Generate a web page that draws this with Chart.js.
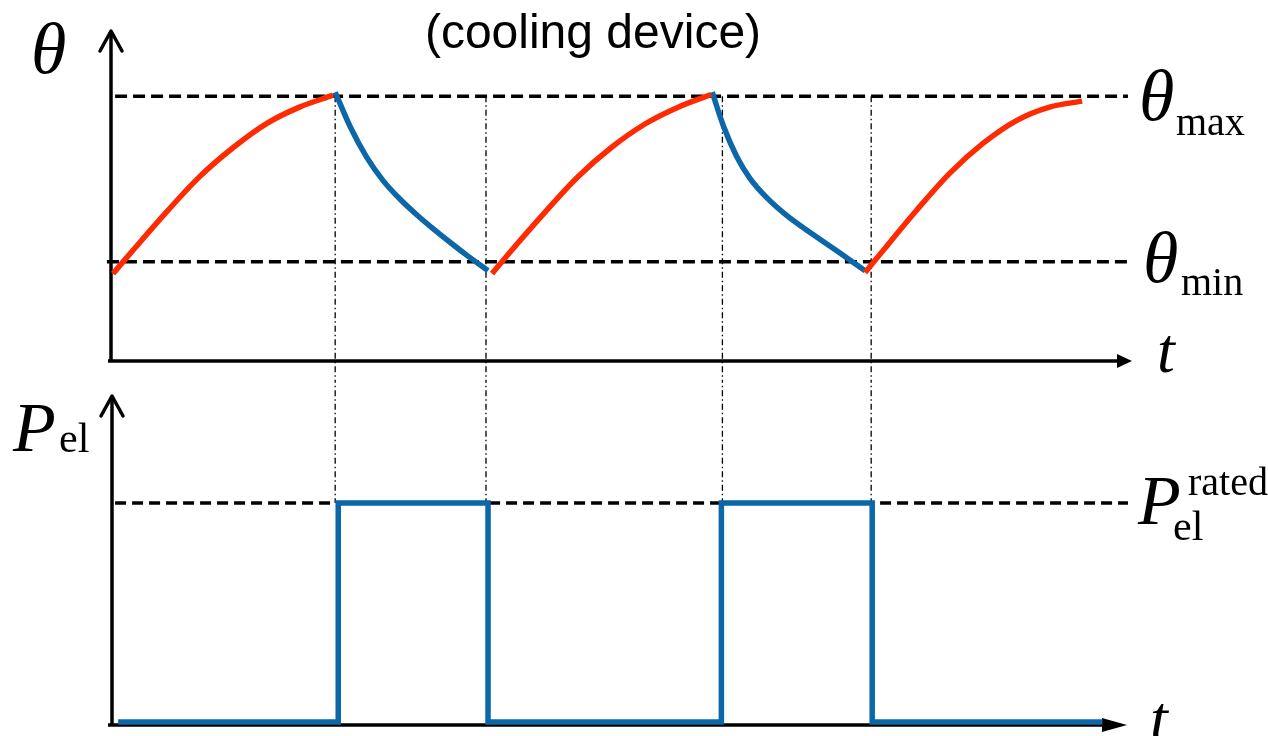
<!DOCTYPE html>
<html>
<head>
<meta charset="utf-8">
<title>cooling device</title>
<script src="https://cdn.jsdelivr.net/npm/chart.js@4.4.1/dist/chart.umd.min.js"></script>
<style>
  html, body { margin: 0; padding: 0; background: #fff; }
  #wrap { position: relative; width: 1268px; height: 736px; overflow: hidden; }
  canvas { position: absolute; left: 0; }
  #topChart { top: 0; }
  #bottomChart { top: 380px; }
  .lbl { position: absolute; white-space: nowrap; line-height: 1; color: #000; font-family: "Liberation Serif", "Times New Roman", serif; }
  .sans { font-family: "Liberation Sans", Arial, sans-serif; }
  .it { font-style: italic; }
</style>
</head>
<body>
<div id="wrap">
  <canvas id="topChart" width="1268" height="380"></canvas>
  <canvas id="bottomChart" width="1268" height="356"></canvas>
</div>
<script>
/* globals Chart:false */

// time axis (arbitrary units 0..100)
const T_MIN = 0;
const T_MAX = 100;

// temperature levels
const THETA_MIN = 3;
const THETA_MAX = 8;
const P_RATED = 1;

// heating phases (red)
const tHeat1 = [0.2, 2.2, 5.5, 8.7, 12.0, 15.3, 18.5, 21.8];
const thetaHeat1 = [2.64, 3.36, 4.52, 5.57, 6.45, 7.18, 7.67, 8.03];
const tHeat2 = [37.4, 39.3, 42.6, 45.8, 49.1, 52.4, 55.6, 58.9];
const thetaHeat2 = [2.64, 3.34, 4.50, 5.56, 6.45, 7.16, 7.66, 8.05];
const tHeat3 = [74.0, 75.8, 79.1, 82.3, 85.6, 88.9, 92.1, 95.3];
const thetaHeat3 = [2.67, 3.35, 4.57, 5.67, 6.58, 7.27, 7.67, 7.85];

// cooling phases (blue)
const tCool1 = [22.0, 23.5, 25.1, 26.7, 28.4, 30.0, 31.6, 33.3, 34.9, 37.0];
const thetaCool1 = [8.12, 7.06, 6.15, 5.45, 4.88, 4.42, 4.00, 3.58, 3.20, 2.73];
const tCool2 = [59.0, 60.1, 61.4, 62.7, 64.4, 66.3, 68.9, 71.5, 74.0];
const thetaCool2 = [8.12, 7.10, 6.18, 5.52, 4.92, 4.40, 3.82, 3.27, 2.73];

// switching instants (dash-dot guides)
const switchTimes = [22.0, 36.8, 60.0, 74.6];

// electric power (step)
const tPower = [0.7, 22.3, 37.0, 59.9, 74.7, 97.3];
const pPower = [0, 1, 0, 1, 0, 0];

const RED = "#ff2a00";
const BLUE = "#0b67a8";

function pts(xs, ys) {
  return xs.map((x, i) => ({ x: x, y: ys[i] }));
}

function curve(xs, ys, color) {
  return {
    data: pts(xs, ys),
    borderColor: color,
    borderWidth: 5.5,
    pointRadius: 0,
    cubicInterpolationMode: "monotone",
    borderCapStyle: "butt",
    fill: false,
  };
}

function dashed(xs, ys, dash, width) {
  return {
    data: pts(xs, ys),
    borderColor: "#000",
    borderWidth: width,
    borderDash: dash,
    pointRadius: 0,
    tension: 0,
    clip: false,
    fill: false,
  };
}

// draws the arrowed axes instead of the normal chart.js axes
const arrowAxes = {
  id: "arrowAxes",
  beforeDatasetsDraw(chart, args, opts) {
    const { ctx, chartArea: a } = chart;
    const yx = a.left + opts.yShift;
    ctx.save();
    ctx.strokeStyle = "#000";
    ctx.fillStyle = "#000";
    ctx.lineWidth = 3.5;

    ctx.beginPath();
    ctx.moveTo(yx, a.bottom + 1);
    ctx.lineTo(yx, a.top + 2);
    ctx.stroke();

    ctx.lineCap = "round";
    ctx.lineJoin = "round";
    ctx.beginPath();
    ctx.moveTo(yx - 11, a.top + 21);
    ctx.lineTo(yx, a.top + 1);
    ctx.lineTo(yx + 11, a.top + 21);
    ctx.stroke();

    const tip = a.right + opts.tipShift;
    ctx.lineCap = "butt";
    ctx.lineWidth = 3.5;
    ctx.beginPath();
    ctx.moveTo(a.left - 3, a.bottom);
    ctx.lineTo(tip - opts.headLen + 2, a.bottom);
    ctx.stroke();

    ctx.beginPath();
    ctx.moveTo(tip, a.bottom);
    ctx.lineTo(tip - opts.headLen, a.bottom - opts.headHalf);
    ctx.lineTo(tip - opts.headLen, a.bottom + opts.headHalf);
    ctx.closePath();
    ctx.fill();
    ctx.restore();
  },
};

function baseOptions(yMin, yMax, padding, axesOpts) {
  return {
    responsive: false,
    animation: false,
    events: [],
    layout: { padding: padding },
    scales: {
      x: { type: "linear", min: T_MIN, max: T_MAX, display: false },
      y: { type: "linear", min: yMin, max: yMax, display: false },
    },
    plugins: {
      legend: { display: false },
      tooltip: { enabled: false },
      arrowAxes: axesOpts,
    },
  };
}

// top chart: temperature
const topSets = [
  curve(tHeat1, thetaHeat1, RED),
  curve(tHeat2, thetaHeat2, RED),
  curve(tHeat3, thetaHeat3, RED),
  curve(tCool1, thetaCool1, BLUE),
  curve(tCool2, thetaCool2, BLUE),
  dashed([0.4, 99.8], [THETA_MAX, THETA_MAX], [12, 6], 3.5),
  dashed([-0.4, 99.8], [THETA_MIN, THETA_MIN], [12, 6], 3.5),
];
for (const ts of switchTimes) {
  topSets.push(dashed([ts, ts], [THETA_MAX, -1.2], [6, 3, 1.5, 3], 1.3));
}

new Chart(document.getElementById("topChart"), {
  type: "line",
  data: { datasets: topSets },
  options: baseOptions(0, 10, { left: 111, right: 138, top: 30, bottom: 19 },
    { yShift: 0, tipShift: 2, headLen: 15, headHalf: 7 }),
  plugins: [arrowAxes],
});

// bottom chart: electric power
const bottomSets = [
  {
    data: pts(tPower, pPower),
    borderColor: BLUE,
    borderWidth: 5.5,
    pointRadius: 0,
    stepped: "before",
    borderJoinStyle: "miter",
    borderCapStyle: "butt",
    fill: false,
  },
  dashed([0.4, 99.8], [P_RATED, P_RATED], [11, 6], 3.5),
];
for (const ts of switchTimes) {
  bottomSets.push(dashed([ts, ts], [1.7, P_RATED], [6, 3, 1.5, 3], 1.3));
}

new Chart(document.getElementById("bottomChart"), {
  type: "line",
  data: { datasets: bottomSets },
  options: baseOptions(-0.014, 1.493, { left: 111, right: 138, top: 15, bottom: 11 },
    { yShift: 1, tipShift: -3, headLen: 25, headHalf: 7 }),
  plugins: [arrowAxes],
});

// text labels
const wrap = document.getElementById("wrap");
function label(text, x, baseline, size, cls, center) {
  const el = document.createElement("span");
  el.className = "lbl " + (cls || "");
  el.textContent = text;
  const k = (cls || "").indexOf("sans") >= 0 ? 0.8465 : 0.8375;
  el.style.fontSize = size + "px";
  el.style.left = x + "px";
  el.style.top = (baseline - k * size) + "px";
  if (center) el.style.transform = "translateX(-50%)";
  wrap.appendChild(el);
}

label("(cooling device)", 593, 49, 48, "sans", true);
label("\u03b8", 31, 73, 72, "it");
label("\u03b8", 1139, 120, 72, "it");
label("max", 1176, 135, 40);
label("\u03b8", 1143, 282, 72, "it");
label("min", 1181, 295, 40);
label("t", 1157, 373, 64, "it");
label("t", 1150, 741, 64, "it");
label("P", 13, 452, 70, "it");
label("el", 59, 452, 42);
label("P", 1138, 525, 70, "it");
label("rated", 1188, 495, 40);
label("el", 1173, 540, 42);
</script>
</body>
</html>
